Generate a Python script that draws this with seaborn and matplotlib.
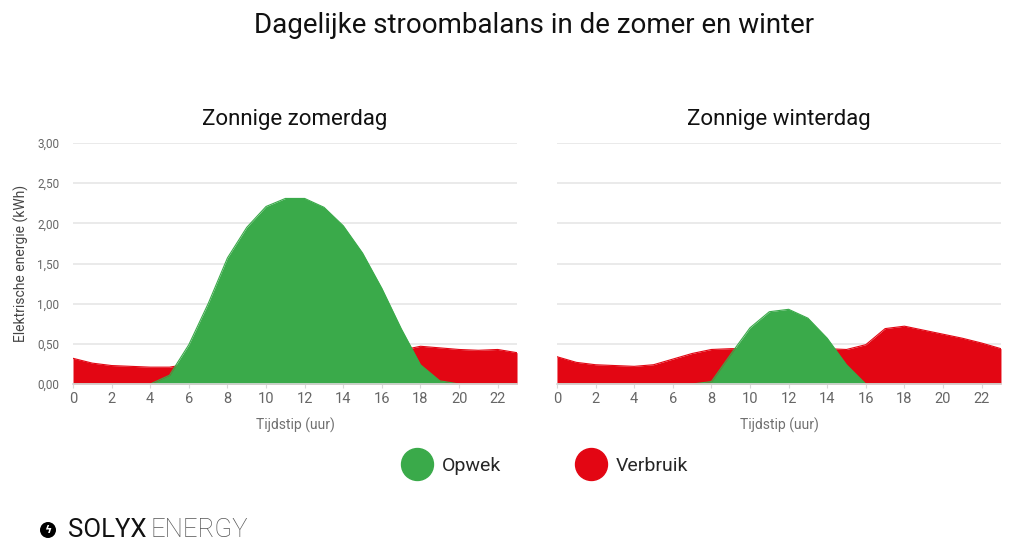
import numpy as np
import pandas as pd
import matplotlib.pyplot as plt
import matplotlib.ticker as mticker
from matplotlib.lines import Line2D
from matplotlib.patches import Circle
import seaborn as sns

# -----------------------------------------------------------------------------
# Data (kWh per uur)
# -----------------------------------------------------------------------------

hours = list(range(24))

zomer_opwek = [0, 0, 0, 0, 0, 0.11, 0.49, 1.00, 1.57, 1.95, 2.21, 2.31,
               2.31, 2.20, 1.97, 1.63, 1.19, 0.69, 0.24, 0.04, 0, 0, 0, 0]
zomer_verbruik = [0.32, 0.26, 0.23, 0.22, 0.21, 0.21, 0.25, 0.30, 0.32, 0.33, 0.33, 0.33,
                  0.33, 0.33, 0.33, 0.35, 0.38, 0.42, 0.47, 0.45, 0.43, 0.42, 0.43, 0.39]

winter_opwek = [0, 0, 0, 0, 0, 0, 0, 0, 0.03, 0.37, 0.70, 0.90,
                0.93, 0.82, 0.57, 0.24, 0, 0, 0, 0, 0, 0, 0, 0]
winter_verbruik = [0.34, 0.27, 0.24, 0.23, 0.22, 0.24, 0.31, 0.38, 0.43, 0.44, 0.44, 0.44,
                   0.44, 0.44, 0.44, 0.43, 0.49, 0.69, 0.72, 0.67, 0.62, 0.57, 0.51, 0.44]

titles = ["Zonnige zomerdag", "Zonnige winterdag"]
legend_labels = ["Opwek", "Verbruik"]

df = pd.DataFrame({
    "uur": hours * 2,
    "opwek": zomer_opwek + winter_opwek,
    "verbruik": zomer_verbruik + winter_verbruik,
    "dag": [titles[0]] * 24 + [titles[1]] * 24,
})

# -----------------------------------------------------------------------------
# Plotting attributes
# -----------------------------------------------------------------------------

sns.set_theme(style="white")
plt.rcParams["font.family"] = ["Roboto", "DejaVu Sans"]

green = "#3aaa4a"
red = "#e30613"
grid_col = "#e6e6e6"
tick_col = "#666666"

fig = plt.figure(figsize=(10.24, 5.49), dpi=100)
ax1 = fig.add_axes([0.0713, 0.3005, 0.4336, 0.439])
ax2 = fig.add_axes([0.5439, 0.3005, 0.4336, 0.439])

for ax, dag in zip([ax1, ax2], titles):
    d = df[df["dag"] == dag]
    ax.fill_between(d["uur"], d["verbruik"], color=red, lw=0, zorder=2)
    ax.fill_between(d["uur"], d["opwek"], color=green, lw=0, zorder=3)
    sns.lineplot(x="uur", y="verbruik", data=d, color=red, lw=0.8, ax=ax, zorder=2)
    sns.lineplot(x="uur", y="opwek", data=d, color=green, lw=0.8, ax=ax, zorder=3)
    ax.set_xlim(0, 23)
    ax.set_ylim(0, 3)
    ax.set_xticks(range(0, 23, 2))
    ax.set_yticks(np.arange(0, 3.01, 0.5))
    ax.yaxis.set_major_formatter(mticker.FuncFormatter(lambda v, p: f"{v:.2f}".replace(".", ",")))
    ax.grid(axis="y", color=grid_col, lw=1.2, zorder=0)
    ax.set_axisbelow(True)
    for s in ["top", "right", "left"]:
        ax.spines[s].set_visible(False)
    ax.spines["bottom"].set_color("#d9d9d9")
    ax.spines["bottom"].set_zorder(4)
    ax.tick_params(axis="x", colors=tick_col, labelsize=10.5, length=3, width=0.8, pad=3,
                   bottom=True, color="#d9d9d9")
    ax.tick_params(axis="y", colors=tick_col, labelsize=8.5, length=0, pad=10)
    ax.set_xlabel("Tijdstip (uur)", color="#707070", fontsize=10, labelpad=8)
    ax.set_ylabel("")
    ax.set_title(dag, fontsize=16, color="#111111", pad=13)

ax1.set_ylabel("Elektrische energie (kWh)", color="#444444", fontsize=10, labelpad=6)
ax2.tick_params(axis="y", labelleft=False)

fig.text(0.522, 0.954, "Dagelijke stroombalans in de zomer en winter", fontsize=20,
         color="#111111", ha="center", va="center")

handles = [Line2D([], [], marker="o", ls="", ms=23, color=c) for c in [green, red]]
fig.legend(handles, legend_labels, loc="center", bbox_to_anchor=(0.530, 0.151), ncol=2,
           frameon=False, fontsize=14, handletextpad=0.3, columnspacing=3.6)

# Logo
fig.add_artist(Circle((0.48, 0.19), 0.08, transform=fig.dpi_scale_trans,
                      color="black", lw=0))
fig.text(0.0469, 0.035, "\u03DF", fontsize=8, color="white", ha="center", va="center",
         family="DejaVu Sans", fontweight="bold")
fig.text(0.066, 0.035, "SOLYX", fontsize=18.5, color="#111111", va="center")
fig.text(0.147, 0.035, "ENERGY", fontsize=18.5, color="#555555", va="center",
         fontweight="light")

plt.savefig("out.png", dpi=100)
